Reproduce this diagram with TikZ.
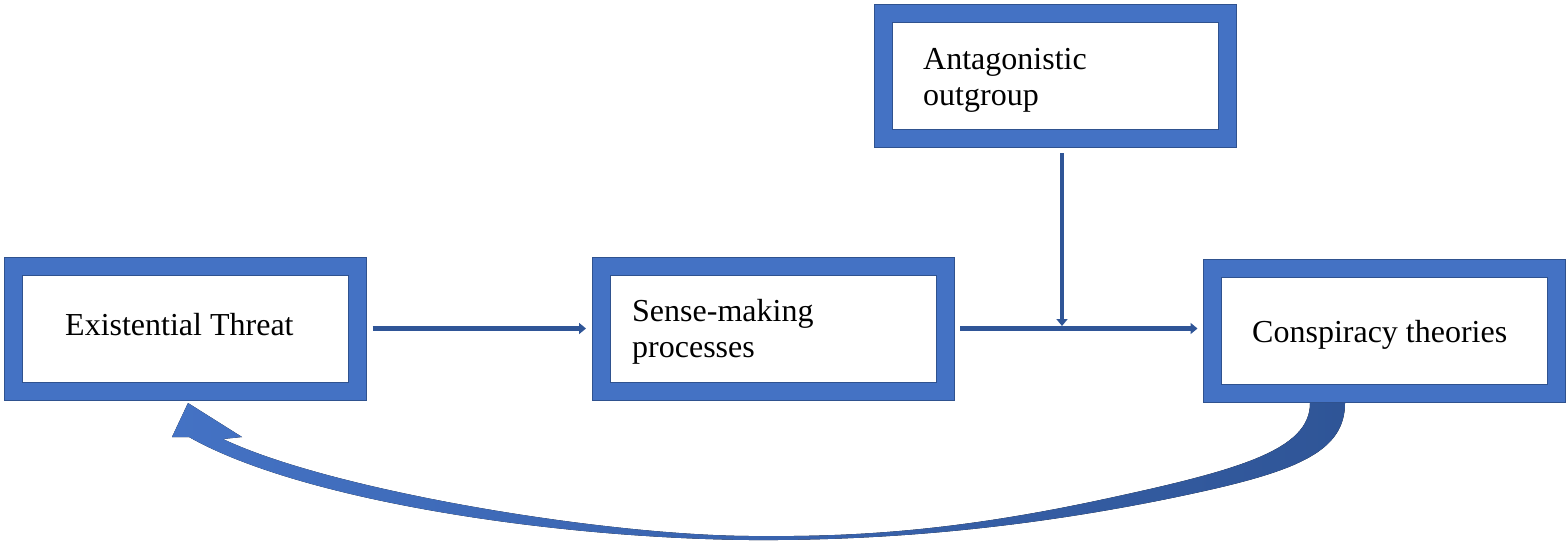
\documentclass[tikz,border=0pt]{standalone}
\usepackage{fontspec}
\setmainfont{Liberation Serif}
\usetikzlibrary{arrows.meta,positioning,calc}
\definecolor{boxfill}{RGB}{68,114,196}
\definecolor{boxedge}{RGB}{47,82,143}
\definecolor{flowblue}{RGB}{47,85,151}
\tikzset{box/.style={draw=boxedge,line width=1pt,double=boxfill,double distance=17pt,
    fill=white,minimum width=344pt,minimum height=125pt,inner sep=0pt,outer sep=15pt},
  boxtext/.style={font=\fontsize{32}{36}\selectfont,align=left,inner sep=0pt,anchor=west},
  flow/.style={-{Triangle[length=7pt,width=11pt]},line width=4.5pt,flowblue}}

\begin{document}
\begin{tikzpicture}[x=1pt, y=-1pt]
\useasboundingbox (0,0) rectangle (1566,542);
% feedback arrow, threat is fed back by the theories
\fill[left color=boxfill, right color=flowblue] (1310,403)
  .. controls (1310,450) and (1240,470) .. (1100,500)
  .. controls (950,532) and (850,537) .. (750,536)
  .. controls (600,535) and (330,490) .. (223,439)
  -- (242,437) -- (188,403) -- (172,437) -- (189,437)
  .. controls (300,500) and (550,538) .. (750,540)
  .. controls (900,541) and (1050,525) .. (1200,492)
  .. controls (1300,470) and (1345,450) .. (1345,403) -- cycle;
\node[box] (et) at (185.5,328.5) {};
\node[box] (sm) at (773,328.5) {};
\node[box] (ao) at (1055,75.5) {};
\node[box] (ct) at (1384.5,330.5) {};
\node[boxtext] (ettext) at (65,325) {Existential Threat};
\node[boxtext] (smtext) at (632,331.5) {Sense-making\\processes};
\node[boxtext] (aotext) at (923,80.5) {Antagonistic\\outgroup};
\node[boxtext] (cttext) at (1252,334.5) {Conspiracy theories};
\coordinate (aofoot) at ([xshift=7pt]ao.south);
\coordinate (jn) at (aofoot |- sm.east);
\coordinate (ctfoot) at (sm.east -| ct.west);
\draw[flow] (et) -- (sm);
\draw[flow] (sm.east) -- (ctfoot);
\draw[flow, shorten >=2.5pt] (aofoot) -- (jn);
\end{tikzpicture}
\end{document}
